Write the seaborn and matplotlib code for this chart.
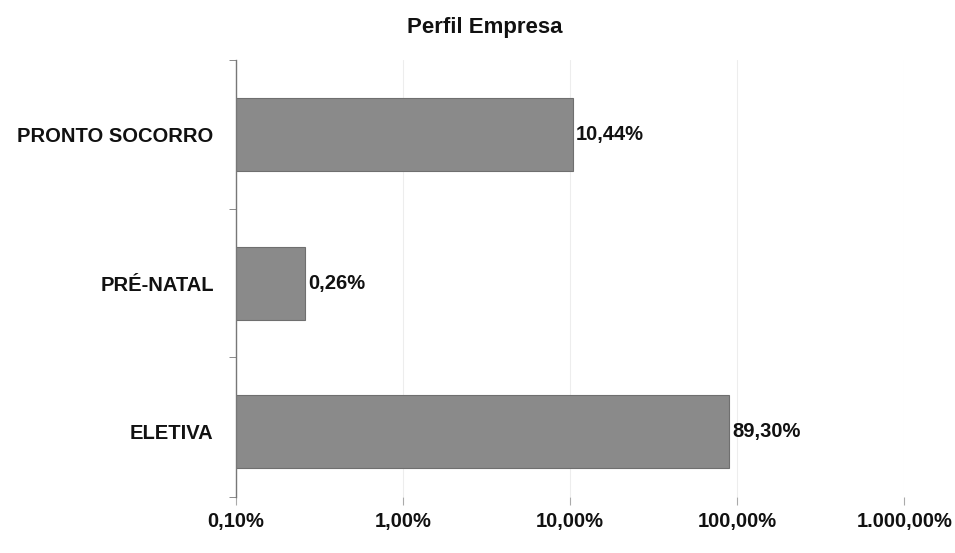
import seaborn as sns
import matplotlib.pyplot as plt
import pandas as pd
from matplotlib.ticker import FixedLocator, FixedFormatter

# Dados
categorias = ['PRONTO SOCORRO', 'PRÉ-NATAL', 'ELETIVA']
percentuais = [10.44, 0.26, 89.30]
rotulos = ['10,44%', '0,26%', '89,30%']
ticks_x = [0.1, 1, 10, 100, 1000]
ticks_txt = ['0,10%', '1,00%', '10,00%', '100,00%', '1.000,00%']

df = pd.DataFrame({'categoria': categorias, 'valor': percentuais})

sns.set_style('white')
plt.rcParams['font.family'] = ['Liberation Sans', 'DejaVu Sans']

fig = plt.figure(figsize=(9.55, 5.53), dpi=100)
ax = fig.add_axes([0.247, 0.101, 0.70, 0.790])
ax.set_xscale('log')

sns.barplot(data=df, x='valor', y='categoria', orient='h', color='#8a8a8a',
            width=0.49, edgecolor='#6f6f6f', linewidth=0.8, ax=ax, saturation=1)

for i, (v, t) in enumerate(zip(percentuais, rotulos)):
    ax.text(v * 1.04, i, t, va='center', ha='left', fontsize=14.5, fontweight='bold', color='#111111')

ax.set_xlim(0.1, 1000)
ax.set_ylim(2.44, -0.5)
ax.xaxis.set_major_locator(FixedLocator(ticks_x))
ax.xaxis.set_major_formatter(FixedFormatter(ticks_txt))
ax.xaxis.set_minor_locator(FixedLocator([]))
ax.grid(axis='x', color='#ededed', linewidth=0.8)
ax.set_axisbelow(True)

for s in ['top', 'right', 'bottom']:
    ax.spines[s].set_visible(False)
ax.spines['left'].set_color('#777777')
ax.spines['left'].set_linewidth(1.0)

ax.tick_params(axis='x', bottom=True, length=6, color='#aaaaaa', pad=5, labelsize=14.5,
               labelcolor='#111111', direction='out')
for lbl in ax.get_xticklabels():
    lbl.set_fontweight('bold')
ax.tick_params(axis='y', length=0, pad=16, labelsize=14.5, labelcolor='#111111')
for lbl in ax.get_yticklabels():
    lbl.set_fontweight('bold')
ax.yaxis.set_minor_locator(FixedLocator([-0.5, 0.5, 1.5, 2.44]))
ax.tick_params(axis='y', which='minor', left=True, length=5, color='#777777')

ax.set_xlabel('')
ax.set_ylabel('')
fig.suptitle('Perfil Empresa', x=0.508, y=0.97, fontsize=16, fontweight='bold', color='#111111')

plt.savefig('out.png', dpi=100)
